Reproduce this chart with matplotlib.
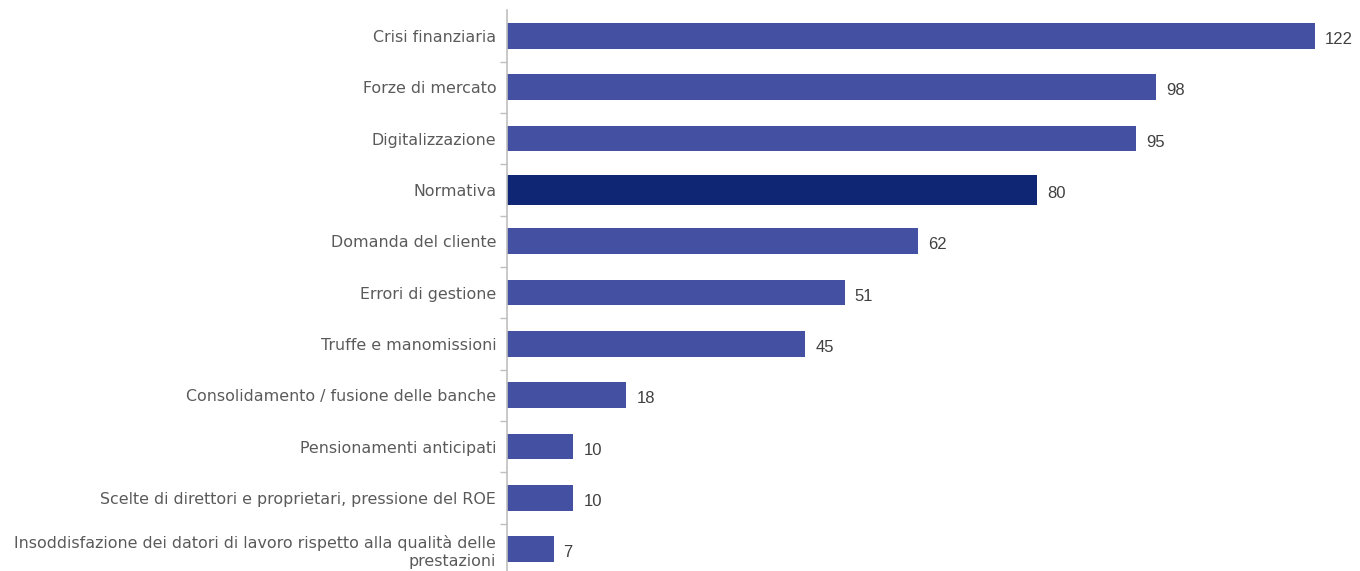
import matplotlib
matplotlib.use('Agg')
from matplotlib import pyplot
import numpy as np

categories = ['Crisi finanziaria', 'Forze di mercato', 'Digitalizzazione', 'Normativa',
              'Domanda del cliente', 'Errori di gestione', 'Truffe e manomissioni',
              'Consolidamento / fusione delle banche', 'Pensionamenti anticipati',
              'Scelte di direttori e proprietari, pressione del ROE',
              'Insoddisfazione dei datori di lavoro rispetto alla qualità delle\nprestazioni']
values = [122, 98, 95, 80, 62, 51, 45, 18, 10, 10, 7]
highlight = 'Normativa'

bar_color = '#4451a3'
dark_color = '#0f2674'

fig = pyplot.figure(figsize=(13.6, 5.71), dpi=100)
ax = fig.add_axes([0.373, -0.007, 0.627, 0.989])

pos = np.arange(len(categories))
colors = [dark_color if c == highlight else bar_color for c in categories]
heights = [0.58 if c == highlight else 0.5 for c in categories]
ax.barh(pos, values, height=heights, color=colors)

for p, v in zip(pos, values):
    ax.text(v + 1.5, p + 0.07, str(v), va='center', ha='left',
            fontsize=12, color='#404040', family='Liberation Sans')

ax.set_ylim(len(categories) - 0.5, -0.5)
ax.set_xlim(0, 128.8)

# category labels
ax.set_yticks(pos)
ax.set_yticklabels(categories, fontsize=11.4, color='#5a5a5a', family='DejaVu Sans',
                   ha='right', multialignment='right', linespacing=1.2)
ax.tick_params(axis='y', length=0, pad=8)
ax.set_yticks(pos[:-1] + 0.5, minor=True)
ax.tick_params(axis='y', which='minor', length=5, color='#bfbfbf', width=1)
ax.set_xticks([])

for s in ['top', 'right', 'bottom']:
    ax.spines[s].set_visible(False)
ax.spines['left'].set_color('#bfbfbf')
ax.spines['left'].set_linewidth(1.2)

fig.savefig('out.png', dpi=100)
